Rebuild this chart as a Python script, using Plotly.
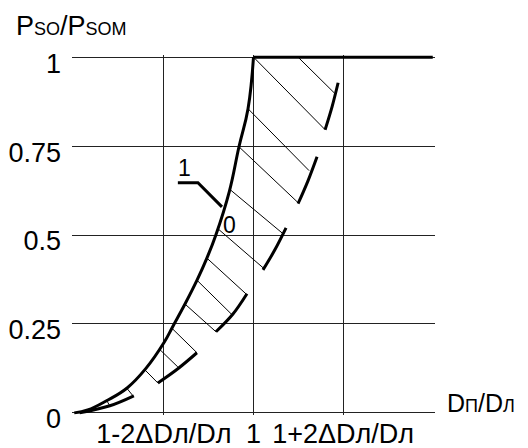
import plotly.graph_objects as go

# Upper boundary curve (nominal characteristic)
curve_x = [0.0, 0.15, 0.36, 0.59, 0.80, 1.0, 1.10, 1.24, 1.37, 1.48, 1.58, 1.73, 1.838, 1.939, 2.0]
curve_y = [0.0, 0.008, 0.034, 0.070, 0.125, 0.197, 0.243, 0.308, 0.373, 0.435, 0.500, 0.622, 0.748, 0.855, 1.0]

# Saturation line
flat_x = [2.0, 4.0]
flat_y = [1.0, 1.0]

# Lower dashed boundary segments (None separates pieces)
low_x = [2.944, 2.877, 2.799, None,
         2.709, 2.609, 2.497, None,
         2.363, 2.240, 2.106, None,
         1.927, 1.771, 1.581, None,
         1.369, 1.156, 0.933, None,
         0.665, 0.397, 0.06]
low_y = [0.928, 0.861, 0.796, None,
         0.720, 0.653, 0.588, None,
         0.520, 0.459, 0.402, None,
         0.335, 0.278, 0.228, None,
         0.169, 0.124, 0.084, None,
         0.048, 0.020, 0.0]

# Hatch lines
hatch_x = [2.0, 2.799, None, 2.497, 2.899, None,
           1.939, 2.620, None, 1.838, 2.497, None,
           1.737, 2.318, None, 1.615, 2.106, None,
           1.480, 1.927, None, 1.369, 1.760, None, 1.235, 1.581, None,
           1.089, 1.369, None, 0.955, 1.156, None, 0.788, 0.933, None,
           0.587, 0.665, None, 0.363, 0.397]
hatch_y = [1.0, 0.796, None, 1.0, 0.900, None,
           0.855, 0.681, None, 0.748, 0.591, None,
           0.628, 0.506, None, 0.515, 0.408, None,
           0.435, 0.332, None, 0.373, 0.276, None, 0.306, 0.228, None,
           0.238, 0.169, None, 0.178, 0.129, None, 0.121, 0.084, None,
           0.069, 0.045, None, 0.034, 0.020]

# Leader for label "1"
leader_x = [1.156, 1.380, 1.648]
leader_y = [0.647, 0.647, 0.579]

x_tickvals = [1, 2, 3]
x_ticktext = ["1-2ΔDл/Dл", "1", "1+2ΔDл/Dл"]
y_tickvals = [0, 0.25, 0.5, 0.75, 1]
y_ticktext = ["0", "0.25", "0.5", "0.75", "1"]

FONT = "Liberation Sans, Arial, sans-serif"

fig = go.Figure()
fig.add_trace(go.Scatter(x=hatch_x, y=hatch_y, mode="lines",
                         line=dict(color="black", width=1), hoverinfo="skip"))
fig.add_trace(go.Scatter(x=curve_x, y=curve_y, mode="lines",
                         line=dict(color="black", width=3, shape="spline", smoothing=1.2), hoverinfo="skip"))
fig.add_trace(go.Scatter(x=flat_x, y=flat_y, mode="lines",
                         line=dict(color="black", width=3), hoverinfo="skip"))
fig.add_trace(go.Scatter(x=low_x, y=low_y, mode="lines", connectgaps=False,
                         line=dict(color="black", width=3, shape="spline"), hoverinfo="skip"))
fig.add_trace(go.Scatter(x=leader_x, y=leader_y, mode="lines",
                         line=dict(color="black", width=3), hoverinfo="skip"))

fig.add_annotation(x=1.235, y=0.689, text="1", showarrow=False,
                   font=dict(family=FONT, size=23, color="black"))
fig.add_annotation(x=1.737, y=0.529, text="0", showarrow=False,
                   font=dict(family=FONT, size=23, color="black"))

fig.add_annotation(xref="paper", yref="paper", x=-0.16, y=1.0, yshift=12,
                   xanchor="left", yanchor="bottom", showarrow=False,
                   text='P<span style="font-size:18px">SO</span>/P<span style="font-size:18px">SOM</span>',
                   font=dict(family=FONT, size=27, color="black"))
fig.add_annotation(xref="paper", yref="y", x=1.0, y=0.0, xshift=10, yshift=10,
                   xanchor="left", yanchor="middle", showarrow=False,
                   text='D<span style="font-size:18px">П</span>/D<span style="font-size:18px">Л</span>',
                   font=dict(family=FONT, size=25, color="black"))

fig.update_xaxes(range=[-0.025, 4.025], tickvals=x_tickvals, ticktext=x_ticktext,
                 showgrid=True, gridcolor="#222", gridwidth=1, zeroline=False,
                 showline=False, ticks="", ticklabelstandoff=0, automargin=False,
                 tickfont=dict(family=FONT, size=27, color="black"))
fig.update_yaxes(range=[-0.006, 1.006], tickvals=y_tickvals, ticktext=y_ticktext,
                 showgrid=True, gridcolor="#222", gridwidth=1, zeroline=False,
                 showline=False, ticks="", ticklabelstandoff=10, ticklabelshift=6,
                 automargin=False,
                 tickfont=dict(family=FONT, size=27, color="black"))

fig.update_layout(width=520, height=440, showlegend=False,
                  margin=dict(l=64, r=93, t=47, b=33, autoexpand=False),
                  plot_bgcolor="white", paper_bgcolor="white")

fig.write_html("out.html")
